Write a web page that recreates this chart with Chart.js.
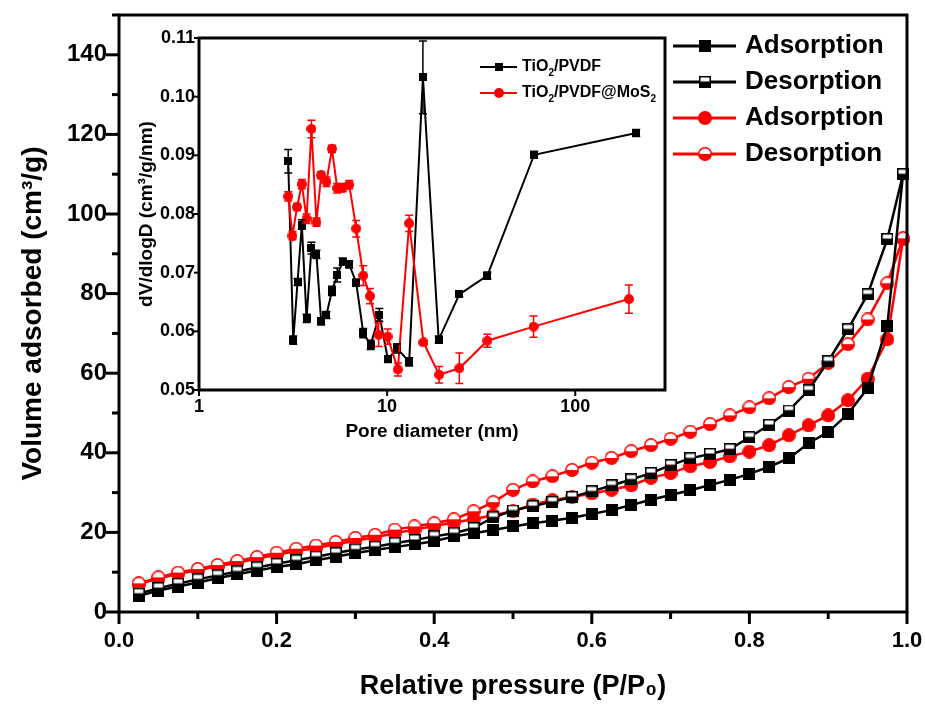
<!DOCTYPE html>
<html>
<head>
<meta charset="utf-8">
<title>BET isotherms</title>
<script src="https://cdn.jsdelivr.net/npm/chart.js@4.4.1/dist/chart.umd.min.js"></script>
<style>
  html, body { margin: 0; padding: 0; background: #fff; }
  #wrap { position: relative; width: 925px; height: 704px; }
  #mainChart { position: absolute; left: 0; top: 0; }
  #insetChart { position: absolute; left: 130px; top: 20px; }
</style>
</head>
<body>
<div id="wrap">
  <canvas id="mainChart" width="925" height="704"></canvas>
  <canvas id="insetChart" width="550" height="425"></canvas>
</div>
<script>
// ---- main isotherm data (P/P0 vs volume adsorbed, cm3/g) ----
const pressure = [0.025, 0.05, 0.075, 0.1, 0.125, 0.15, 0.175, 0.2, 0.225, 0.25,
  0.275, 0.3, 0.325, 0.35, 0.375, 0.4, 0.425, 0.45, 0.475, 0.5,
  0.525, 0.55, 0.575, 0.6, 0.625, 0.65, 0.675, 0.7, 0.725, 0.75,
  0.775, 0.8, 0.825, 0.85, 0.875, 0.9, 0.925, 0.95, 0.975, 0.995];

const adsTiO2 = [4.0, 5.4, 6.4, 7.4, 8.5, 9.5, 10.4, 11.3, 12.0, 13.0,
  13.9, 14.8, 15.6, 16.3, 17.0, 17.8, 19.0, 19.8, 20.6, 21.5,
  22.3, 22.9, 23.7, 24.6, 25.6, 26.9, 28.2, 29.4, 30.6, 31.9,
  33.2, 34.7, 36.5, 38.6, 42.4, 45.2, 49.8, 56.2, 71.9, 110.0];

const desTiO2 = [4.6, 6.0, 7.1, 8.2, 9.2, 10.2, 11.2, 12.1, 13.0, 13.9,
  14.8, 15.7, 16.4, 17.3, 18.1, 19.0, 19.8, 21.1, 23.8, 25.5,
  26.6, 27.7, 28.9, 30.3, 31.8, 33.3, 34.9, 36.9, 38.6, 39.7,
  40.9, 43.9, 47.0, 50.6, 55.7, 63.0, 71.0, 79.8, 93.7, 110.0];

const adsMoS2 = [7.0, 8.4, 9.6, 10.5, 11.5, 12.4, 13.4, 14.4, 15.3, 16.1,
  17.0, 17.9, 18.8, 19.8, 20.7, 21.6, 22.5, 23.3, 24.3, 25.3,
  27.0, 28.1, 28.9, 29.8, 30.7, 31.8, 33.7, 34.9, 36.6, 37.7,
  39.1, 40.3, 41.9, 44.4, 46.9, 49.4, 53.2, 58.6, 68.5, 93.7];

const desMoS2 = [7.2, 8.7, 9.9, 10.8, 11.8, 12.8, 13.8, 14.9, 15.9, 16.7,
  17.6, 18.6, 19.4, 20.7, 21.5, 22.3, 23.3, 25.3, 27.6, 30.7,
  32.8, 34.1, 35.7, 37.5, 38.7, 40.4, 41.9, 43.5, 45.3, 47.2,
  49.4, 51.4, 53.7, 56.5, 58.6, 62.6, 67.3, 73.5, 82.6, 93.9];

const mainLabels = ["Adsorption", "Desorption", "Adsorption", "Desorption"];

// ---- inset: pore size distribution ----
const poreTiO2 = [2.98, 3.17, 3.34, 3.52, 3.73, 3.96, 4.21, 4.46, 4.76, 5.09,
  5.43, 5.80, 6.29, 6.85, 7.47, 8.17, 9.09, 10.1, 11.3, 13.1,
  15.5, 18.8, 24.2, 34.1, 60.5, 211];
const dvTiO2 = [0.0890, 0.0585, 0.0684, 0.0782, 0.0622, 0.0742, 0.0731, 0.0617, 0.0628, 0.0669,
  0.0696, 0.0719, 0.0714, 0.0683, 0.0597, 0.0577, 0.0628, 0.0552, 0.0571, 0.0548,
  0.1033, 0.0586, 0.0663, 0.0695, 0.0901, 0.0938];
const errTiO2 = [0.0020, 0.0007, 0.0006, 0.0008, 0.0007, 0.0010, 0.0007, 0.0006, 0.0006, 0.0008,
  0.0012, 0.0006, 0.0006, 0.0006, 0.0008, 0.0008, 0.0011, 0.0005, 0.0008, 0.0007,
  0.0062, 0.0006, 0.0004, 0.0006, 0.0006, 0.0006];

const poreMoS2 = [2.98, 3.14, 3.32, 3.52, 3.73, 3.96, 4.21, 4.46, 4.76, 5.09,
  5.43, 5.80, 6.29, 6.85, 7.47, 8.11, 9.01, 10.06, 11.4, 13.1,
  15.6, 18.9, 24.2, 34.1, 60.0, 193];
const dvMoS2 = [0.0830, 0.0763, 0.0812, 0.0851, 0.0792, 0.0945, 0.0786, 0.0866, 0.0855, 0.0911,
  0.0844, 0.0845, 0.0850, 0.0775, 0.0695, 0.0660, 0.0594, 0.0591, 0.0535, 0.0784,
  0.0581, 0.0526, 0.0537, 0.0584, 0.0608, 0.0655];
const errMoS2 = [0.0008, 0.0007, 0.0006, 0.0008, 0.0008, 0.0015, 0.0007, 0.0006, 0.0008, 0.0006,
  0.0008, 0.0007, 0.0007, 0.0014, 0.0017, 0.0013, 0.0020, 0.0013, 0.0011, 0.0014,
  0.0004, 0.0014, 0.0026, 0.0011, 0.0018, 0.0024];

const FONT = "'Liberation Sans', Arial, sans-serif";
const RED = "#ff0000";

Chart.defaults.font.family = FONT;
Chart.defaults.color = "#000";

function toPoints(xs, ys) {
  return xs.map(function (x, i) { return { x: x, y: ys[i] }; });
}

// keep the plot box where we want it: no extra label padding from the scales
function fixSize(prop, value) {
  return function (s) {
    s[prop] = value;
    s.paddingLeft = 0;
    s.paddingRight = 0;
    s.paddingTop = 0;
    s.paddingBottom = 0;
  };
}

// marker images (filled / half-open)
function squareMarker(size, halfOpen) {
  const c = document.createElement("canvas");
  c.width = size;
  c.height = size;
  const g = c.getContext("2d");
  g.fillStyle = "#000";
  g.fillRect(0, 0, size, size);
  if (halfOpen) {
    g.fillStyle = "#fff";
    g.fillRect(1.5, 1.5, size - 3, size / 2 - 2);
  }
  return c;
}

function circleMarker(size, color, halfOpen) {
  const c = document.createElement("canvas");
  c.width = size;
  c.height = size;
  const g = c.getContext("2d");
  const r = size / 2;
  g.fillStyle = color;
  g.beginPath();
  g.arc(r, r, r, 0, Math.PI * 2);
  g.fill();
  if (halfOpen) {
    g.fillStyle = "#fff";
    g.beginPath();
    g.arc(r, r, r - 1.5, Math.PI, Math.PI * 2);
    g.closePath();
    g.fill();
  }
  return c;
}

// frame around the plot area + outward tick marks
function frameAndTicks(cfg) {
  return {
    id: "frameAndTicks",
    afterDraw(chart) {
      const ctx = chart.ctx;
      const a = chart.chartArea;
      const xs = chart.scales.x;
      const ys = chart.scales.y;
      ctx.save();
      ctx.strokeStyle = "#000";
      ctx.lineWidth = cfg.tickWidth;
      xs.ticks.forEach(function (t) {
        const len = cfg.xTickLen(t.value);
        if (!len) return;
        const px = xs.getPixelForValue(t.value);
        ctx.beginPath();
        ctx.moveTo(px, a.bottom);
        ctx.lineTo(px, a.bottom + len);
        ctx.stroke();
      });
      ys.ticks.forEach(function (t) {
        const len = cfg.yTickLen(t.value);
        if (!len) return;
        const py = ys.getPixelForValue(t.value);
        ctx.beginPath();
        ctx.moveTo(a.left, py);
        ctx.lineTo(a.left - len, py);
        ctx.stroke();
      });
      ctx.lineWidth = cfg.frameWidth;
      ctx.strokeRect(a.left, a.top, a.right - a.left, a.bottom - a.top);
      ctx.restore();
    }
  };
}

// legend drawn as line + marker + (optionally subscripted) text
function legendPlugin(items, box) {
  return {
    id: "customLegend",
    afterDraw(chart) {
      const ctx = chart.ctx;
      ctx.save();
      items.forEach(function (it, i) {
        const y = box.top + i * box.gap;
        ctx.strokeStyle = it.color;
        ctx.lineWidth = box.lineWidth;
        ctx.beginPath();
        ctx.moveTo(box.x0, y);
        ctx.lineTo(box.x1, y);
        ctx.stroke();
        const m = it.marker;
        ctx.drawImage(m, Math.round((box.x0 + box.x1) / 2 - m.width / 2), Math.round(y - m.height / 2));
        let tx = box.textX;
        ctx.fillStyle = "#000";
        ctx.textBaseline = "middle";
        ctx.textAlign = "left";
        it.parts.forEach(function (p) {
          const fs = p.sub ? Math.round(box.fontSize * 0.6) : box.fontSize;
          ctx.font = "bold " + fs + "px " + FONT;
          ctx.fillText(p.t, tx, p.sub ? y + box.fontSize * 0.38 : y);
          tx += ctx.measureText(p.t).width;
        });
      });
      ctx.restore();
    }
  };
}

// vertical error bars for datasets carrying an "errors" array
const errorBars = {
  id: "errorBars",
  afterDatasetsDraw(chart) {
    const ctx = chart.ctx;
    const xs = chart.scales.x;
    const ys = chart.scales.y;
    chart.data.datasets.forEach(function (ds) {
      if (!ds.errors) return;
      ctx.save();
      ctx.strokeStyle = ds.borderColor;
      ctx.lineWidth = 1.5;
      ds.data.forEach(function (p, i) {
        const px = xs.getPixelForValue(p.x);
        const top = ys.getPixelForValue(p.y + ds.errors[i]);
        const bot = ys.getPixelForValue(p.y - ds.errors[i]);
        ctx.beginPath();
        ctx.moveTo(px, top);
        ctx.lineTo(px, bot);
        ctx.moveTo(px - 4, top);
        ctx.lineTo(px + 4, top);
        ctx.moveTo(px - 4, bot);
        ctx.lineTo(px + 4, bot);
        ctx.stroke();
      });
      ctx.restore();
    });
  }
};

// ---------------- main chart ----------------
const mkSqFull = squareMarker(12, false);
const mkSqHalf = squareMarker(12, true);
const mkCiFull = circleMarker(14, RED, false);
const mkCiHalf = circleMarker(14, RED, true);

function isoSet(label, ys, color, marker, order) {
  return {
    label: label,
    data: toPoints(pressure, ys),
    borderColor: color,
    backgroundColor: color,
    borderWidth: 2.5,
    pointStyle: marker,
    pointRadius: 6,
    clip: false,
    order: order
  };
}

new Chart(document.getElementById("mainChart"), {
  type: "line",
  data: {
    datasets: [
      isoSet(mainLabels[0], adsTiO2, "#000", mkSqFull, 2),
      isoSet(mainLabels[1], desTiO2, "#000", mkSqHalf, 1),
      isoSet(mainLabels[2], adsMoS2, RED, mkCiFull, 4),
      isoSet(mainLabels[3], desMoS2, RED, mkCiHalf, 3)
    ]
  },
  options: {
    responsive: false,
    animation: false,
    devicePixelRatio: 1,
    events: [],
    layout: { padding: { top: 15, right: 18, left: 0, bottom: 0 } },
    plugins: { legend: { display: false }, tooltip: { enabled: false } },
    scales: {
      x: {
        type: "linear",
        min: 0,
        max: 1,
        grid: { display: false, drawTicks: false },
        border: { display: false },
        ticks: {
          stepSize: 0.1,
          padding: 16,
          maxRotation: 0,
          autoSkip: false,
          font: { size: 22, weight: "bold" },
          callback: function (v) {
            return Math.round(v * 10) % 2 === 0 ? v.toFixed(1) : "";
          }
        },
        title: {
          display: true,
          text: "Relative pressure (P/P\u2080)",
          font: { size: 27, weight: "bold" },
          padding: { top: 0, bottom: 1 }
        },
        afterFit: fixSize("height", 92)
      },
      y: {
        min: 0,
        max: 150,
        grid: { display: false, drawTicks: false },
        border: { display: false },
        ticks: {
          stepSize: 10,
          padding: 12,
          autoSkip: false,
          font: { size: 24, weight: "bold" },
          callback: function (v) {
            return Math.round(v) % 20 === 0 ? String(v) : "";
          }
        },
        title: {
          display: true,
          text: "Volume adsorbed (cm\u00b3/g)",
          font: { size: 28, weight: "bold" },
          padding: { top: 16, bottom: 0 }
        },
        afterFit: fixSize("width", 119)
      }
    }
  },
  plugins: [
    frameAndTicks({
      frameWidth: 3,
      tickWidth: 3,
      xTickLen: function (v) { return Math.round(v * 10) % 2 === 0 ? 12 : 7; },
      yTickLen: function (v) { return Math.round(v) % 20 === 0 ? 13 : 7; }
    }),
    legendPlugin([
      { color: "#000", marker: mkSqFull, parts: [{ t: mainLabels[0] }] },
      { color: "#000", marker: mkSqHalf, parts: [{ t: mainLabels[1] }] },
      { color: RED, marker: mkCiFull, parts: [{ t: mainLabels[2] }] },
      { color: RED, marker: mkCiHalf, parts: [{ t: mainLabels[3] }] }
    ], { x0: 673, x1: 736, textX: 745, top: 46, gap: 36, fontSize: 26, lineWidth: 3 })
  ]
});

// ---------------- inset chart ----------------
const inSq = squareMarker(8, false);
const inCi = circleMarker(10, RED, false);

new Chart(document.getElementById("insetChart"), {
  type: "line",
  data: {
    datasets: [
      {
        label: "TiO2/PVDF",
        data: toPoints(poreTiO2, dvTiO2),
        errors: errTiO2,
        borderColor: "#000",
        backgroundColor: "#000",
        borderWidth: 2,
        pointStyle: inSq,
        pointRadius: 4,
        clip: false,
        order: 2
      },
      {
        label: "TiO2/PVDF@MoS2",
        data: toPoints(poreMoS2, dvMoS2),
        errors: errMoS2,
        borderColor: RED,
        backgroundColor: RED,
        borderWidth: 2,
        pointStyle: inCi,
        pointRadius: 5,
        clip: false,
        order: 1
      }
    ]
  },
  options: {
    responsive: false,
    animation: false,
    devicePixelRatio: 1,
    events: [],
    layout: { padding: { top: 18, right: 15, left: 0, bottom: 0 } },
    plugins: { legend: { display: false }, tooltip: { enabled: false } },
    scales: {
      x: {
        type: "logarithmic",
        min: 1,
        max: 300,
        grid: { display: false, drawTicks: false },
        border: { display: false },
        ticks: {
          padding: 6,
          maxRotation: 0,
          autoSkip: false,
          font: { size: 18, weight: "bold" },
          callback: function (v) {
            const l = Math.log10(v);
            return Math.abs(l - Math.round(l)) < 1e-9 ? String(v) : "";
          }
        },
        title: {
          display: true,
          text: "Pore diameter (nm)",
          font: { size: 19, weight: "bold" },
          padding: { top: 0, bottom: 2 }
        },
        afterFit: fixSize("height", 55)
      },
      y: {
        min: 0.05,
        max: 0.11,
        grid: { display: false, drawTicks: false },
        border: { display: false },
        ticks: {
          stepSize: 0.01,
          padding: 4,
          autoSkip: false,
          font: { size: 18, weight: "bold" },
          callback: function (v) { return v.toFixed(2); }
        },
        title: {
          display: true,
          text: "dV/dlogD (cm\u00b3/g/nm)",
          font: { size: 19, weight: "bold" },
          padding: { top: 5, bottom: 0 }
        },
        afterFit: fixSize("width", 69)
      }
    }
  },
  plugins: [
    errorBars,
    frameAndTicks({
      frameWidth: 3,
      tickWidth: 2,
      xTickLen: function (v) {
        const l = Math.log10(v);
        return Math.abs(l - Math.round(l)) < 1e-9 ? 6 : 0;
      },
      yTickLen: function () { return 5; }
    }),
    legendPlugin([
      { color: "#000", marker: inSq, parts: [{ t: "TiO" }, { t: "2", sub: true }, { t: "/PVDF" }] },
      { color: RED, marker: inCi, parts: [{ t: "TiO" }, { t: "2", sub: true }, { t: "/PVDF@MoS" }, { t: "2", sub: true }] }
    ], { x0: 350, x1: 387, textX: 392, top: 47, gap: 26, fontSize: 16, lineWidth: 2 })
  ]
});
</script>
</body>
</html>
